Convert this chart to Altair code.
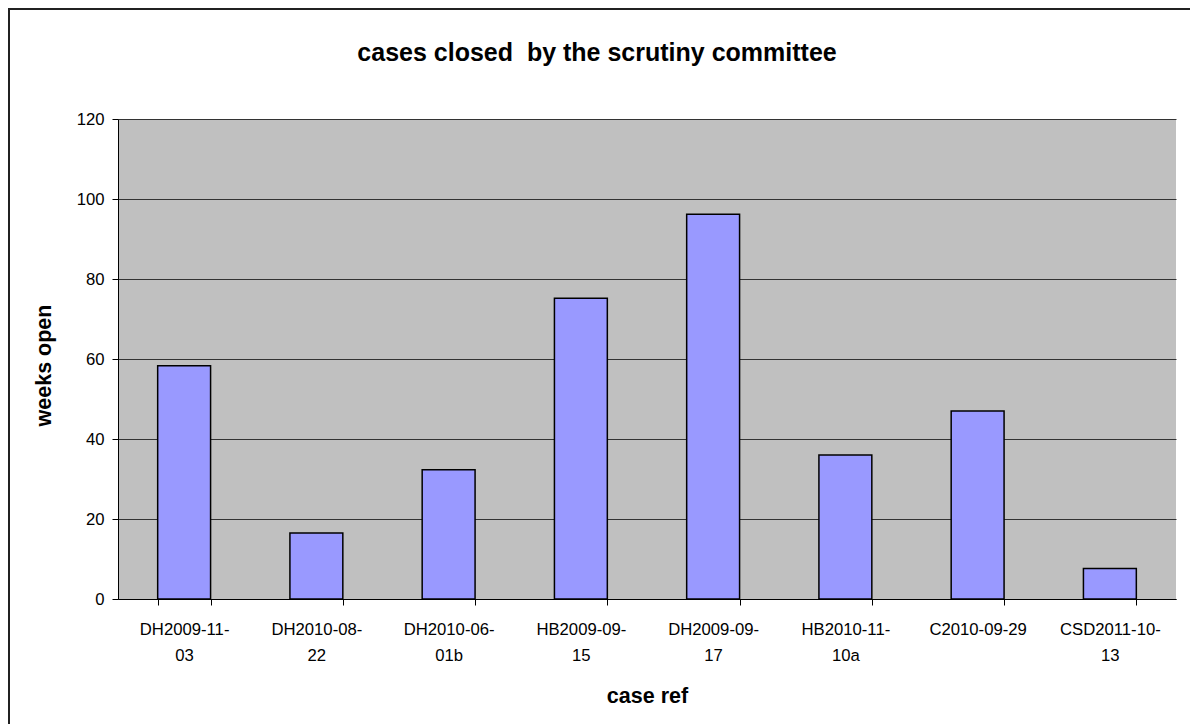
import altair as alt
import pandas as pd

cases = ["DH2009-11-03", "DH2010-08-22", "DH2010-06-01b", "HB2009-09-15",
         "DH2009-09-17", "HB2010-11-10a", "C2010-09-29", "CSD2011-10-13"]
weeks = [58.3, 16.5, 32.3, 75.2, 96.2, 36.0, 47.0, 7.6]
chart_title = "cases closed \u00a0by the scrutiny committee"

df = pd.DataFrame({"case": cases, "weeks": weeks})

FONT = "Liberation Sans"
W, H = 1058, 480

label_expr = ("datum.label == 'C2010-09-29' ? datum.label : "
              "[substring(datum.label, 0, lastindexof(datum.label, '-') + 1), "
              "substring(datum.label, lastindexof(datum.label, '-') + 1)]")

bars = alt.Chart(df).mark_bar(
    color="#9999FF", stroke="black", strokeWidth=1.5
).encode(
    x=alt.X("case:N", sort=cases,
            scale=alt.Scale(paddingInner=0.6, paddingOuter=0.3),
            axis=alt.Axis(title="case ref", labelAngle=0, tickBand="extent",
                          labelExpr=label_expr, labelFont=FONT, labelFontSize=16.7,
                          labelColor="black", labelLineHeight=26, labelPadding=16,
                          labelBaseline="top",
                          tickColor="black", tickSize=6, domainColor="black",
                          titleFont=FONT, titleFontSize=21.5, titleFontWeight="bold",
                          titleColor="black", titleX=529, titleY=97,
                          titleAlign="center", titleBaseline="middle", grid=False)),
    y=alt.Y("weeks:Q",
            scale=alt.Scale(domain=[0, 120]),
            axis=alt.Axis(title="weeks open", values=[0, 20, 40, 60, 80, 100, 120],
                          labelFont=FONT, labelFontSize=16.7, labelColor="black",
                          labelPadding=8, tickColor="black", tickSize=6,
                          domainColor="black", gridColor="#333333", gridWidth=1,
                          titleFont=FONT, titleFontSize=21.5, titleFontWeight="bold",
                          titleColor="black", titleX=-74, titleY=246, titleAngle=270,
                          titleAlign="center", titleBaseline="middle"))
)

frame = alt.Chart(df).mark_rect(
    fill=None, stroke="#222222", strokeWidth=1.5, clip=False
).encode(
    x=alt.value(-109), x2=alt.value(1075),
    y=alt.value(-110), y2=alt.value(610)
)

title = alt.Chart(pd.DataFrame({"t": [chart_title]})).mark_text(
    font=FONT, fontSize=25, fontWeight="bold", color="black",
    align="center", baseline="alphabetic"
).encode(
    text="t:N", x=alt.value(479), y=alt.value(-58)
)

chart = alt.layer(frame, bars, title).properties(
    width=W, height=H,
    autosize=alt.AutoSizeParams(type="none"),
    padding={"left": 118, "top": 119, "right": 14, "bottom": 125},
    background="white"
).configure_view(
    fill="#C0C0C0", stroke=None
)

chart.save("out.html", embed_options={"renderer": "svg", "actions": False})
